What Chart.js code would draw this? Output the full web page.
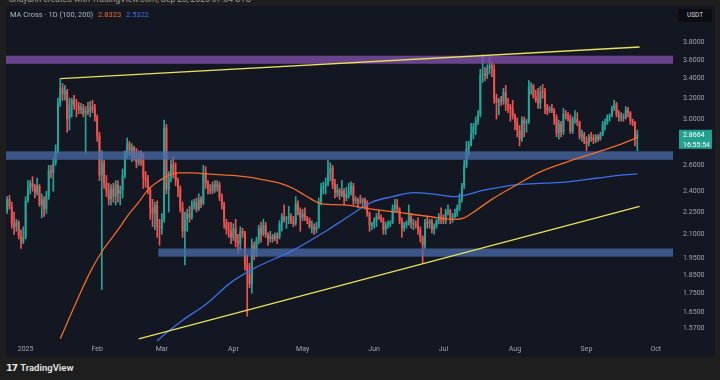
<!DOCTYPE html>
<html>
<head>
<meta charset="utf-8">
<script src="https://cdn.jsdelivr.net/npm/chart.js@4.4.0/dist/chart.umd.min.js"></script>
<style>
  html, body { margin: 0; padding: 0; width: 720px; height: 380px; overflow: hidden; background: #1e1e1e; font-family: Roboto, "Noto Sans", sans-serif; }
  #hdr { position: absolute; left: 9px; top: -6px; font-size: 8.5px; line-height: 10px; color: #9a9a9a; white-space: nowrap; }
  #panel { position: absolute; left: 6px; top: 6px; width: 709px; height: 351px; background: #131722; border-radius: 3px; overflow: hidden; }
  #chart { position: absolute; left: 0; top: 0; }
  #legend { position: absolute; left: 4px; top: 4px; font-size: 7.5px; line-height: 9px; color: #b2b5be; white-space: nowrap; }
  #legend .v1 { color: #f26b2a; margin-left: 3px; }
  #legend .v2 { color: #3a71e8; margin-left: 3px; }
  #usdt { position: absolute; left: 672px; top: 3px; width: 34px; height: 13px; background: #0b0d13; border-radius: 2px; color: #d1d4dc; font-size: 6.5px; line-height: 13px; text-align: center; }
  #logo { position: absolute; left: 6px; top: 362px; color: #e6e6e6; white-space: nowrap; font-size: 9.5px; line-height: 12px; font-weight: 600; }
  #logo b { font-family: "DejaVu Sans", sans-serif; font-weight: 900; letter-spacing: -1px; margin-right: 3px; }
</style>
</head>
<body>
<div id="hdr">Shayanh created with TradingView.com, Sep 23, 2025 07:04 UTC</div>
<div id="panel">
  <canvas id="chart" width="709" height="351"></canvas>
  <div id="legend">MA Cross · 1D (100, 200) <span class="v1" id="ma100v"></span> <span class="v2" id="ma200v"></span></div>
  <div id="usdt">USDT</div>
</div>
<div id="logo"><b>17</b>TradingView</div>
<script>
// 일봉 데이터, day 번호는 2025-01-01 = 0 기준
var firstDay = -8;      // 2024-12-24
var axisDays = 292;     // x축은 10월 초까지 비워둠
var monthTickDays = [0, 31, 59, 90, 120, 151, 181, 212, 243, 273];
var monthTickLabels = ['2025', 'Feb', 'Mar', 'Apr', 'May', 'Jun', 'Jul', 'Aug', 'Sep', 'Oct'];

var yTicks = [3.8, 3.6, 3.4, 3.2, 3.0, 2.6, 2.4, 2.25, 2.1, 1.95, 1.85, 1.75, 1.65, 1.57];

var opens = [
  2.26,2.34,2.29,2.17,2.15,2.18,2.09,2.05,
  2.08,2.33,2.42,2.46,2.43,2.39,2.44,2.30,2.34,2.27,2.36,2.56,2.54,2.62,2.72,3.15,3.30,3.24,3.27,3.00,3.14,3.18,3.13,3.12,3.09,3.11,3.05,3.08,3.07,3.12,3.10,
  3.02,2.85,2.52,2.62,2.46,2.40,2.34,2.42,2.36,2.45,2.38,2.41,2.52,2.70,2.78,2.72,2.75,2.68,2.62,2.70,2.64,2.50,2.48,2.41,2.28,2.24,2.30,2.15,
  2.14,2.20,2.92,2.41,2.50,2.61,2.54,2.48,2.42,2.28,2.12,2.20,2.24,2.21,2.30,2.32,2.27,2.34,2.31,2.54,2.46,2.42,2.40,2.45,2.43,2.45,2.36,2.30,2.18,2.13,2.12,
  2.08,2.14,2.05,2.04,2.12,2.11,1.91,1.86,1.80,2.03,1.99,2.06,2.14,2.10,2.16,2.10,2.07,2.09,2.07,2.09,2.08,2.17,2.22,2.20,2.21,2.22,2.19,2.17,2.31,2.26,
  2.21,2.24,2.21,2.19,2.15,2.15,2.13,2.15,2.32,2.42,2.44,2.46,2.54,2.58,2.45,2.39,2.41,2.37,2.40,2.35,2.38,2.39,2.44,2.33,2.34,2.33,2.32,2.34,2.30,2.24,2.16,
  2.17,2.19,2.22,2.21,2.19,2.13,2.16,2.17,2.18,2.28,2.30,2.27,2.19,2.14,2.16,2.18,2.22,2.17,2.17,2.16,2.13,2.08,2.03,2.18,2.17,2.19,2.13,2.15,2.19,2.22,
  2.20,2.19,2.25,2.26,2.21,2.22,2.24,2.28,2.34,2.44,2.60,2.74,2.77,2.87,2.93,2.98,3.04,3.44,3.45,3.43,3.51,3.54,3.50,3.20,3.16,3.18,3.17,3.26,3.14,3.12,3.10,
  3.03,2.97,2.90,2.82,2.99,2.96,2.98,3.32,3.33,3.22,3.18,3.15,3.27,3.26,3.11,3.08,3.10,3.08,3.02,2.87,2.96,2.88,3.05,3.03,3.00,2.89,3.00,3.00,2.97,2.84,2.86,
  2.80,2.78,2.84,2.83,2.81,2.84,2.82,2.86,2.95,2.97,3.02,3.03,3.10,3.14,3.04,3.02,3.02,3.01,3.09,3.06,2.98,2.97,2.83
];
var highs = [
  2.36,2.37,2.32,2.25,2.20,2.19,2.13,2.15,
  2.36,2.48,2.48,2.51,2.45,2.50,2.45,2.38,2.36,2.40,2.60,2.60,2.66,2.77,3.20,3.40,3.35,3.33,3.29,3.20,3.20,3.23,3.19,3.16,3.15,3.14,3.12,3.16,3.17,3.18,3.14,
  3.04,2.88,2.72,2.64,2.52,2.46,2.45,2.46,2.48,2.48,2.44,2.57,2.72,2.83,2.80,2.78,2.76,2.74,2.72,2.72,2.70,2.55,2.52,2.43,2.34,2.32,2.33,2.20,
  2.24,2.99,2.95,2.55,2.64,2.67,2.62,2.50,2.44,2.32,2.25,2.27,2.29,2.33,2.34,2.35,2.38,2.36,2.60,2.59,2.48,2.45,2.47,2.48,2.48,2.47,2.38,2.32,2.20,2.18,2.18,
  2.17,2.20,2.10,2.15,2.14,2.12,1.97,1.92,2.07,2.05,2.08,2.16,2.18,2.20,2.18,2.11,2.12,2.10,2.11,2.11,2.19,2.24,2.30,2.22,2.29,2.24,2.22,2.36,2.33,2.28,
  2.27,2.28,2.22,2.21,2.19,2.17,2.18,2.35,2.46,2.47,2.50,2.64,2.62,2.60,2.49,2.45,2.42,2.48,2.42,2.43,2.46,2.47,2.46,2.36,2.35,2.37,2.35,2.35,2.33,2.25,2.18,
  2.21,2.24,2.26,2.23,2.21,2.18,2.19,2.19,2.30,2.34,2.34,2.28,2.21,2.18,2.19,2.30,2.24,2.20,2.19,2.21,2.15,2.09,2.20,2.22,2.20,2.20,2.17,2.20,2.24,2.28,
  2.23,2.27,2.30,2.27,2.24,2.27,2.30,2.38,2.46,2.64,2.80,2.80,2.96,2.96,3.02,3.08,3.50,3.66,3.52,3.55,3.64,3.58,3.55,3.24,3.20,3.22,3.30,3.33,3.20,3.14,3.18,
  3.05,3.01,2.94,3.02,3.02,3.00,3.38,3.36,3.34,3.28,3.30,3.32,3.34,3.30,3.14,3.12,3.14,3.10,3.04,2.99,2.98,3.10,3.08,3.06,3.04,3.02,3.08,3.06,2.98,2.90,2.88,
  2.84,2.86,2.88,2.86,2.86,2.86,2.88,2.98,3.00,3.04,3.05,3.12,3.18,3.16,3.08,3.06,3.05,3.12,3.11,3.07,3.00,2.98,2.90
];
var lows = [
  2.24,2.27,2.14,2.10,2.12,2.07,2.01,2.04,
  2.07,2.32,2.38,2.40,2.35,2.37,2.29,2.21,2.22,2.24,2.34,2.50,2.40,2.60,2.70,3.12,3.18,3.18,2.88,2.90,3.02,3.09,3.02,3.05,3.05,3.02,2.70,3.04,3.02,3.06,2.98,
  2.80,2.48,1.77,2.42,2.36,2.30,2.30,2.32,2.30,2.32,2.30,2.35,2.50,2.66,2.68,2.63,2.64,2.58,2.60,2.60,2.42,2.43,2.38,2.20,2.15,2.13,2.08,2.03,
  2.10,2.18,2.38,2.25,2.47,2.50,2.44,2.36,2.25,2.08,1.91,2.12,2.18,2.20,2.27,2.25,2.26,2.28,2.30,2.42,2.38,2.38,2.38,2.39,2.40,2.33,2.27,2.14,2.10,2.08,2.04,
  2.06,2.02,1.98,2.00,2.08,1.88,1.63,1.78,1.75,1.94,1.96,2.04,2.05,2.09,2.08,2.03,2.05,2.05,2.06,2.04,2.07,2.12,2.18,2.14,2.17,2.17,2.15,2.16,2.23,2.12,
  2.19,2.19,2.17,2.14,2.11,2.10,2.11,2.14,2.30,2.38,2.38,2.44,2.48,2.42,2.35,2.36,2.34,2.36,2.30,2.33,2.35,2.37,2.30,2.31,2.28,2.31,2.28,2.27,2.22,2.12,2.13,
  2.14,2.15,2.20,2.18,2.10,2.10,2.14,2.15,2.17,2.25,2.25,2.17,2.08,2.12,2.14,2.16,2.14,2.13,2.14,2.10,2.05,1.92,2.01,2.14,2.14,2.11,2.10,2.14,2.17,2.17,
  2.17,2.17,2.23,2.17,2.18,2.21,2.22,2.26,2.32,2.42,2.58,2.68,2.76,2.82,2.86,2.95,3.02,3.36,3.38,3.40,3.45,3.42,3.15,3.00,3.04,3.13,3.14,3.08,3.06,2.98,3.00,
  2.90,2.84,2.76,2.80,2.84,2.88,2.96,3.24,3.20,3.16,3.10,3.10,3.20,3.05,3.04,3.06,3.06,2.95,2.84,2.82,2.84,2.86,3.00,2.98,2.87,2.87,2.96,2.94,2.82,2.80,2.78,
  2.72,2.76,2.80,2.78,2.79,2.80,2.81,2.85,2.90,2.95,2.98,3.02,3.08,3.02,2.98,2.98,2.98,3.00,3.02,2.95,2.94,2.76,2.72
];
var closes = [
  2.34,2.29,2.17,2.15,2.18,2.09,2.05,2.08,
  2.33,2.42,2.46,2.43,2.39,2.44,2.30,2.34,2.27,2.36,2.56,2.54,2.62,2.72,3.15,3.30,3.24,3.27,3.00,3.14,3.18,3.13,3.12,3.09,3.11,3.05,3.08,3.07,3.12,3.10,3.02,
  2.85,2.52,2.62,2.46,2.40,2.34,2.42,2.36,2.45,2.38,2.41,2.52,2.70,2.78,2.72,2.75,2.68,2.62,2.70,2.64,2.50,2.48,2.41,2.28,2.24,2.30,2.15,2.14,
  2.20,2.92,2.41,2.50,2.61,2.54,2.48,2.42,2.28,2.12,2.20,2.24,2.21,2.30,2.32,2.27,2.34,2.31,2.54,2.46,2.42,2.40,2.45,2.43,2.45,2.36,2.30,2.18,2.13,2.12,2.08,
  2.14,2.05,2.04,2.12,2.11,1.91,1.86,1.80,2.03,1.99,2.06,2.14,2.10,2.16,2.10,2.07,2.09,2.07,2.09,2.08,2.17,2.22,2.20,2.21,2.22,2.19,2.17,2.31,2.26,2.21,
  2.24,2.21,2.19,2.15,2.15,2.13,2.15,2.32,2.42,2.44,2.46,2.54,2.58,2.45,2.39,2.41,2.37,2.40,2.35,2.38,2.39,2.44,2.33,2.34,2.33,2.32,2.34,2.30,2.24,2.16,2.17,
  2.19,2.22,2.21,2.19,2.13,2.16,2.17,2.18,2.28,2.30,2.27,2.19,2.14,2.16,2.18,2.22,2.17,2.17,2.16,2.13,2.08,2.03,2.18,2.17,2.19,2.13,2.15,2.19,2.22,2.20,
  2.19,2.25,2.26,2.21,2.22,2.24,2.28,2.34,2.44,2.60,2.74,2.77,2.87,2.93,2.98,3.04,3.44,3.45,3.43,3.51,3.54,3.50,3.20,3.16,3.18,3.17,3.26,3.14,3.12,3.10,3.03,
  2.97,2.90,2.82,2.99,2.96,2.98,3.32,3.33,3.22,3.18,3.15,3.27,3.26,3.11,3.08,3.10,3.08,3.02,2.87,2.96,2.88,3.05,3.03,3.00,2.89,3.00,3.00,2.97,2.84,2.86,2.80,
  2.78,2.84,2.83,2.81,2.84,2.82,2.86,2.95,2.97,3.02,3.03,3.10,3.14,3.04,3.02,3.02,3.01,3.09,3.06,2.98,2.97,2.83,2.8664
];

// 이동평균선
var ma100Days = [15, 20, 24, 28, 33, 36, 41, 44, 49, 53, 58, 62, 66, 72, 80, 89, 95, 102, 110, 116, 121, 128, 138, 150, 165, 179, 186, 190, 195, 202, 213, 222, 235, 248, 257, 265];
var ma100Vals = [1.52, 1.65, 1.76, 1.87, 1.99, 2.05, 2.15, 2.22, 2.32, 2.41, 2.48, 2.52, 2.54, 2.54, 2.53, 2.52, 2.51, 2.49, 2.46, 2.42, 2.37, 2.31, 2.30, 2.27, 2.24, 2.21, 2.20, 2.21, 2.26, 2.34, 2.45, 2.54, 2.63, 2.71, 2.77, 2.8323];
var ma200Days = [57, 59, 68, 78, 89, 99, 116, 131, 138, 150, 159, 168, 176, 186, 199, 213, 225, 235, 248, 257, 265];
var ma200Vals = [1.51, 1.53, 1.61, 1.69, 1.81, 1.89, 2.00, 2.13, 2.20, 2.32, 2.36, 2.39, 2.38, 2.36, 2.41, 2.45, 2.46, 2.47, 2.50, 2.52, 2.5322];

// 추세선
var upperTrendDays = [15, 266];
var upperTrendVals = [3.40, 3.75];
var lowerTrendDays = [49, 266];
var lowerTrendVals = [1.52, 2.29];

// 지지/저항 구간
var zoneFrom = [-8, -8, 58];
var zoneTo = [280, 280, 280];
var zoneLows = [3.56, 2.645, 1.96];
var zoneHighs = [3.65, 2.715, 2.01];

var countdown = '16:55:54';

// 색상
var upColor = '#26a69a';
var downColor = '#ef5350';
var ma100Color = '#f26b2a';
var ma200Color = '#3a71e8';
var trendColor = '#ebe05a';
var zoneColors = ['rgba(130, 80, 170, 0.78)', 'rgba(75, 110, 170, 0.75)', 'rgba(75, 110, 170, 0.75)'];
var tickColor = '#a3a6af';

var labels = [];
for (var d = firstDay; d < firstDay + axisDays; d++) labels.push(String(d));

function sparse(days, vals) {
  var arr = new Array(labels.length).fill(null);
  days.forEach(function (day, i) { arr[day - firstDay] = vals[i]; });
  return arr;
}

function candleColor(ctx) {
  var i = ctx.dataIndex;
  return closes[i] >= opens[i] ? upColor : downColor;
}

var lastPrice = closes[closes.length - 1];
document.getElementById('ma100v').textContent = ma100Vals[ma100Vals.length - 1].toFixed(4);
document.getElementById('ma200v').textContent = ma200Vals[ma200Vals.length - 1].toFixed(4);

// 구간 박스 (캔들 위에 반투명)
var zonePlugin = {
  id: 'zones',
  afterDatasetDraw: function (chart, args) {
    if (args.index !== 1) return;
    var ctx = chart.ctx, area = chart.chartArea, x = chart.scales.x, y = chart.scales.y;
    var half = (x.getPixelForValue(1) - x.getPixelForValue(0)) / 2;
    ctx.save();
    ctx.beginPath();
    ctx.rect(area.left, area.top, area.right - area.left, area.bottom - area.top);
    ctx.clip();
    zoneLows.forEach(function (lo, i) {
      var x0 = x.getPixelForValue(zoneFrom[i] - firstDay) - half;
      var x1 = x.getPixelForValue(zoneTo[i] - firstDay) + half;
      var y0 = y.getPixelForValue(zoneHighs[i]);
      var y1 = y.getPixelForValue(lo);
      ctx.fillStyle = zoneColors[i];
      ctx.fillRect(x0, y0, x1 - x0, y1 - y0);
    });
    ctx.restore();
  }
};

// 현재가 라벨
var priceTagPlugin = {
  id: 'priceTag',
  afterDraw: function (chart) {
    var ctx = chart.ctx, area = chart.chartArea, y = chart.scales.y;
    var py = y.getPixelForValue(lastPrice);
    ctx.save();
    ctx.fillStyle = closes[closes.length - 1] >= opens[opens.length - 1] ? '#22a08f' : downColor;
    ctx.fillRect(area.right - 1, py - 4, 33, 19);
    ctx.fillStyle = '#ffffff';
    ctx.font = '7px Roboto';
    ctx.textBaseline = 'middle';
    ctx.fillText(lastPrice.toFixed(4), area.right + 3, py + 1.5);
    ctx.fillText(countdown, area.right + 3, py + 11);
    ctx.restore();
  }
};

var chart = new Chart(document.getElementById('chart'), {
  type: 'bar',
  data: {
    labels: labels,
    datasets: [
      {
        label: 'wick',
        data: lows.map(function (l, i) { return [l, highs[i]]; }),
        backgroundColor: candleColor,
        barThickness: 1,
        grouped: false,
        order: 6
      },
      {
        label: 'body',
        data: opens.map(function (o, i) { return [o, closes[i]]; }),
        backgroundColor: candleColor,
        barPercentage: 0.85,
        categoryPercentage: 1,
        minBarLength: 1,
        grouped: false,
        order: 5
      },
      {
        type: 'line',
        label: 'MA 200',
        data: sparse(ma200Days, ma200Vals),
        borderColor: ma200Color,
        borderWidth: 1.3,
        pointRadius: 0,
        spanGaps: true,
        cubicInterpolationMode: 'monotone',
        order: 4
      },
      {
        type: 'line',
        label: 'MA 100',
        data: sparse(ma100Days, ma100Vals),
        borderColor: ma100Color,
        borderWidth: 1.3,
        pointRadius: 0,
        spanGaps: true,
        cubicInterpolationMode: 'monotone',
        order: 3
      },
      {
        type: 'line',
        label: 'upper trend',
        data: sparse(upperTrendDays, upperTrendVals),
        borderColor: trendColor,
        borderWidth: 1.3,
        pointRadius: 0,
        spanGaps: true,
        tension: 0,
        order: 2
      },
      {
        type: 'line',
        label: 'lower trend',
        data: sparse(lowerTrendDays, lowerTrendVals),
        borderColor: trendColor,
        borderWidth: 1.3,
        pointRadius: 0,
        spanGaps: true,
        tension: 0,
        order: 1
      }
    ]
  },
  options: {
    responsive: false,
    animation: false,
    events: [],
    layout: { padding: 0 },
    plugins: { legend: { display: false }, tooltip: { enabled: false } },
    scales: {
      x: {
        type: 'category',
        offset: true,
        grid: { display: false, drawTicks: false },
        border: { display: false },
        ticks: {
          autoSkip: false,
          maxRotation: 0,
          minRotation: 0,
          padding: 3,
          color: tickColor,
          font: { family: 'Roboto', size: 7 },
          callback: function (value) {
            var k = monthTickDays.indexOf(Number(this.getLabelForValue(value)));
            return k >= 0 ? monthTickLabels[k] : '';
          }
        },
        afterFit: function (scale) {
          scale.height = 15;
          scale.paddingLeft = 0;
          scale.paddingRight = 0;
        }
      },
      y: {
        type: 'logarithmic',
        position: 'right',
        min: 1.505,
        max: 4.257,
        bounds: 'data',
        grid: { display: false, drawTicks: false },
        border: { display: false },
        ticks: {
          padding: 3,
          color: tickColor,
          font: { family: 'Roboto', size: 7 },
          callback: function (v) { return Number(v).toFixed(4); }
        },
        afterBuildTicks: function (scale) {
          scale.ticks = yTicks.map(function (v) { return { value: v }; });
        },
        afterFit: function (scale) {
          scale.width = 35;
          scale.paddingTop = 0;
          scale.paddingBottom = 0;
        }
      }
    }
  },
  plugins: [zonePlugin, priceTagPlugin]
});
</script>
</body>
</html>
